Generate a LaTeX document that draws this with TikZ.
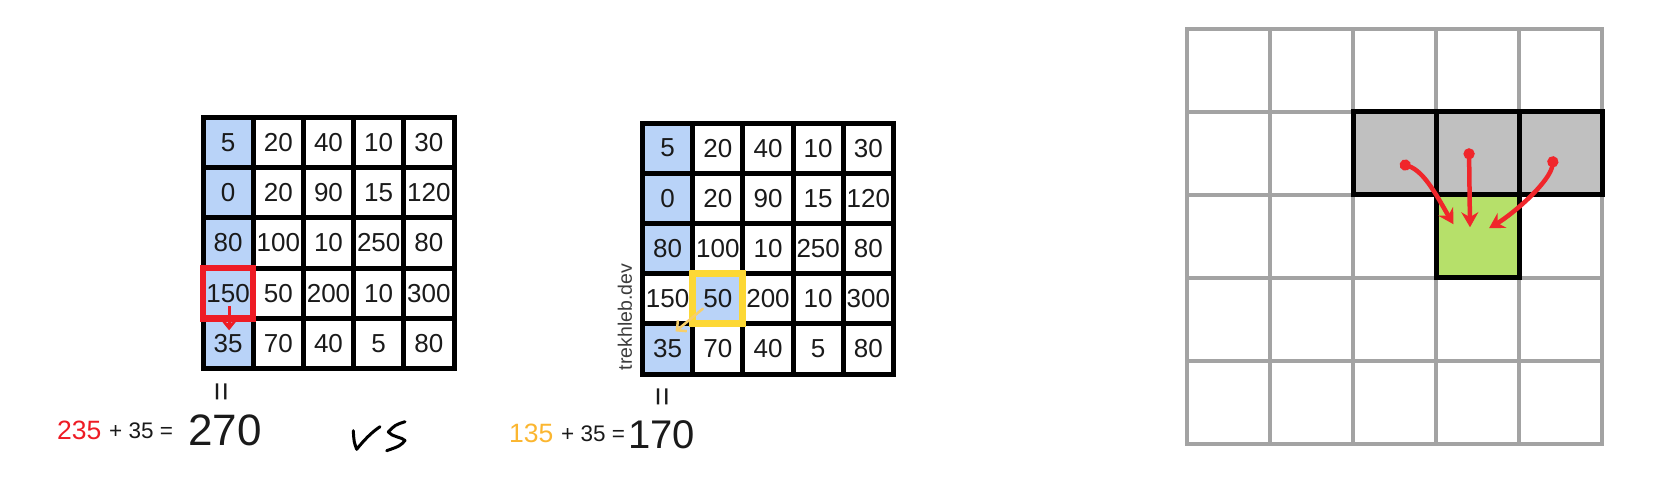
\documentclass[tikz,border=0pt]{standalone}
\usepackage{fontspec}
\setmainfont{Liberation Sans}
\usetikzlibrary{arrows.meta,calc}

\definecolor{cellblue}{HTML}{B9D3F8}
\definecolor{inkblack}{HTML}{1A1A1A}
\definecolor{markred}{HTML}{EE1C25}
\definecolor{arrowred}{HTML}{F0262B}
\definecolor{markyellow}{HTML}{FDD835}
\definecolor{paleyellow}{HTML}{F7CF6A}
\definecolor{sumorange}{HTML}{FBB630}
\definecolor{gridgray}{HTML}{A3A3A3}
\definecolor{cellgray}{HTML}{C0C0C0}
\definecolor{cellgreen}{HTML}{B6E06A}

\newcommand{\cellfont}{\fontsize{26}{30}\selectfont}
\newcommand{\partfont}{\fontsize{26.5}{31}\selectfont}
\newcommand{\plusfont}{\fontsize{22.5}{27}\selectfont}

\begin{document}
\begin{tikzpicture}[x=1pt,y=-1pt,
  cell/.style={draw=black,line width=5pt,minimum size=50.2pt,inner sep=0pt,outer sep=0pt,text=inkblack,font=\cellfont},
  gcell/.style={draw=gridgray,line width=4pt,minimum width=83pt,minimum height=82.9pt,inner sep=0pt,outer sep=0pt},
  hiedge/.style={draw=black,line width=5pt},
  eqsign/.style={rotate=90,inner sep=0pt,text=inkblack,font=\fontsize{33}{38}\selectfont},
  sumtext/.style={anchor=base west,inner sep=0pt,text=inkblack},
  pathred/.style={arrowred,line width=4.5pt,{Circle[length=11pt]}-{Stealth[length=15pt,width=17pt]}}]
\useasboundingbox (0,0) rectangle (1674,490);

\foreach \row [count=\r] in {{5,20,40,10,30},{0,20,90,15,120},{80,100,10,250,80},{150,50,200,10,300},{35,70,40,5,80}}{%
  \foreach \val [count=\c] in \row{%
    \ifnum\c=1 \def\cellfill{cellblue}\else\def\cellfill{white}\fi
    \node[cell,fill=\cellfill] (L-\r-\c) at ({203+50.2*(\c-0.5)},{117.5+50.2*(\r-0.5)}) {\val};
    \pgfmathtruncatemacro\isblue{((\c==1)&&(\r!=4))||((\r==4)&&(\c==2))}
    \ifnum\isblue=1 \def\cellfill{cellblue}\else\def\cellfill{white}\fi
    \node[cell,fill=\cellfill] (M-\r-\c) at ({642.5+50.2*(\c-0.5)},{123+50.2*(\r-0.5)}) {\val};
  }
}
\draw[markred,line width=6.5pt] (L-4-1.north west) rectangle (L-4-1.south east);
\draw[markred,line width=3pt,-{Stealth[length=10pt,width=16pt]}] ($(L-4-1.center)+(1,13)$) -- ($(L-5-1.north)+(1,12)$);
\draw[markyellow,line width=7pt] (M-4-2.north west) rectangle (M-4-2.south east);
\draw[paleyellow,line width=2.5pt,line cap=round,-{Straight Barb[length=7pt,width=14pt]}] ($(M-4-2.center)+(-15,10)$) -- ($(M-5-1.center)+(8,-17.5)$);
\node[rotate=90,inner sep=0pt,text=inkblack!85,font=\fontsize{19.5}{23}\selectfont] (mark) at (625,317) {trekhleb.dev};

\node[eqsign] (L-eq) at (224.5,391.5) {=};
\node[sumtext,text=markred,font=\partfont] (L-part) at (57,439.5) {235};
\node[sumtext,font=\plusfont] (L-plus) at (109,438.5) {+ 35 =};
\node[sumtext,font=\fontsize{44}{50}\selectfont] (L-total) at (188,445) {270};

\node[eqsign] (M-eq) at (665,396.5) {=};
\node[sumtext,text=sumorange,font=\partfont] (M-part) at (509,442.5) {135};
\node[sumtext,font=\plusfont] (M-plus) at (561,441.5) {+ 35 =};
\node[sumtext,font=\fontsize{40}{46}\selectfont] (M-total) at (628,448) {170};

\draw[black,line width=3pt,line cap=round,line join=round] (353.3,430.7) .. controls (354,442) .. (356.7,449.3) .. controls (364,440) and (372,432) .. (380,426.7);
\draw[black,line width=3pt,line cap=round,line join=round] (405,421.7) .. controls (395,425) .. (388.3,432) .. controls (392,437) and (402,437) .. (405,440.5) .. controls (400,446) .. (386.7,450.7);

\foreach \r in {1,...,5}{%
  \foreach \c in {1,...,5}{%
    \node[gcell] (R-\r-\c) at ({1187+83*(\c-0.5)},{29+82.9*(\r-0.5)}) {};
  }
}
\foreach \c in {3,4,5}{%
  \draw[hiedge,fill=cellgray] (R-2-\c.north west) rectangle (R-2-\c.south east);
}
\draw[hiedge,fill=cellgreen] (R-3-4.north west) rectangle (R-3-4.south east);

\draw[pathred] ($(R-2-3.center)+(5.5,10)$) .. controls +(25,8) and +(-15,-25) .. ($(R-3-4.center)+(-24,-12)$);
\draw[pathred] ($(R-2-4.center)+(-8.5,-5)$) -- ($(R-3-4.center)+(-7.5,-9)$);
\draw[pathred] ($(R-2-5.center)+(-7,3)$) .. controls +(-3,25) and +(25,-15) .. ($(R-3-4.center)+(11.5,-8)$);
\end{tikzpicture}
\end{document}
